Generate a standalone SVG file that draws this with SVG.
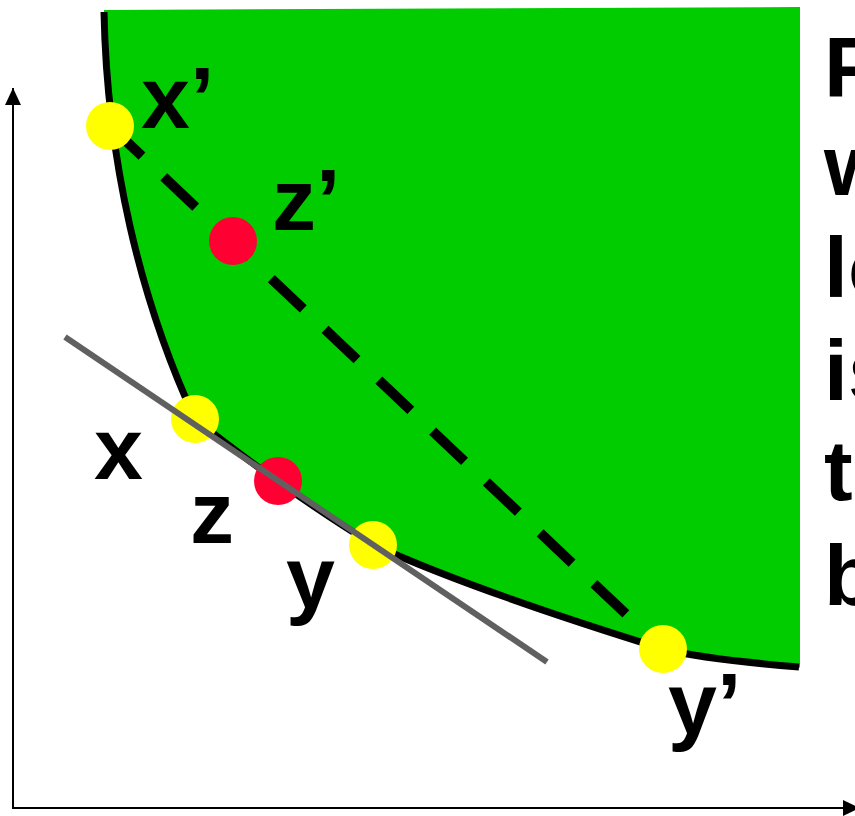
<svg xmlns="http://www.w3.org/2000/svg" width="855" height="816" viewBox="0 0 855 816">
  <defs>
    <marker id="arr" markerWidth="17" markerHeight="16" refX="17" refY="8" orient="auto" markerUnits="userSpaceOnUse" viewBox="0 0 17 16">
      <path d="M0,0 L17,8 L0,16 Z" fill="#000"/>
    </marker>
    <style>
      .axis { stroke:#000; stroke-width:2; fill:none; }
      .lbl { font-family:"Liberation Sans", Arial, sans-serif; font-weight:bold; font-size:88px; fill:#000; }
      .side { font-family:"Liberation Sans", Arial, sans-serif; font-weight:bold; font-size:86px; fill:#000; }
      .yel { fill:#FFFF00; }
      .red { fill:#FF0033; }
    </style>
  </defs>
  <rect width="855" height="816" fill="#fff"/>
  <g id="region">
    <path d="M104,10 L800,7 L800,668 L799,667 C750,663 700,658 663,649 C560,617 450,580 374,545 C300,500 230,447 195,419 C140,300 107,160 104,10 Z" fill="#00CC00"/>
  </g>
  <g id="axes">
    <line class="axis" x1="13" y1="808" x2="13" y2="88" marker-end="url(#arr)"/>
    <line class="axis" x1="12" y1="808" x2="860" y2="808" marker-end="url(#arr)"/>
  </g>
  <g id="connectors">
    <path id="frontier" d="M104,12 C107,160 140,300 195,419 C230,447 300,500 374,545 C450,580 560,617 663,649 C700,658 750,663 799,667" fill="none" stroke="#000" stroke-width="7"/>
    <line id="chord" x1="110" y1="126" x2="663" y2="649" stroke="#000" stroke-width="10" stroke-dasharray="44 30"/>
  </g>
  <g id="pt-xp"><circle class="yel" cx="110" cy="126" r="24"/></g>
  <g id="pt-zp"><circle class="red" cx="233" cy="241" r="24"/></g>
  <g id="pt-x"><circle class="yel" cx="195" cy="419" r="24"/></g>
  <g id="pt-z"><circle class="red" cx="278" cy="481" r="24"/></g>
  <g id="pt-y"><circle class="yel" cx="373" cy="545" r="24"/></g>
  <g id="pt-yp"><circle class="yel" cx="663" cy="649" r="24"/></g>
  <g id="tangent">
    <line x1="65" y1="337" x2="547" y2="662" stroke="#606060" stroke-width="6"/>
  </g>
  <g id="labels">
    <text class="lbl" x="141" y="128">x’</text>
    <text class="lbl" x="272" y="230">z’</text>
    <text class="lbl" x="94" y="479">x</text>
    <text class="lbl" x="190" y="543">z</text>
    <text class="lbl" x="286" y="608">y</text>
    <text class="lbl" x="668" y="734">y’</text>
  </g>
  <g id="side-text">
    <text class="side" x="824" y="97">P</text>
    <text class="side" x="824" y="195">w</text>
    <text class="side" x="824" y="297">lo</text>
    <text class="side" x="824" y="400">is</text>
    <text class="side" x="824" y="500">to</text>
    <text class="side" x="824" y="605">b</text>
  </g>
</svg>
